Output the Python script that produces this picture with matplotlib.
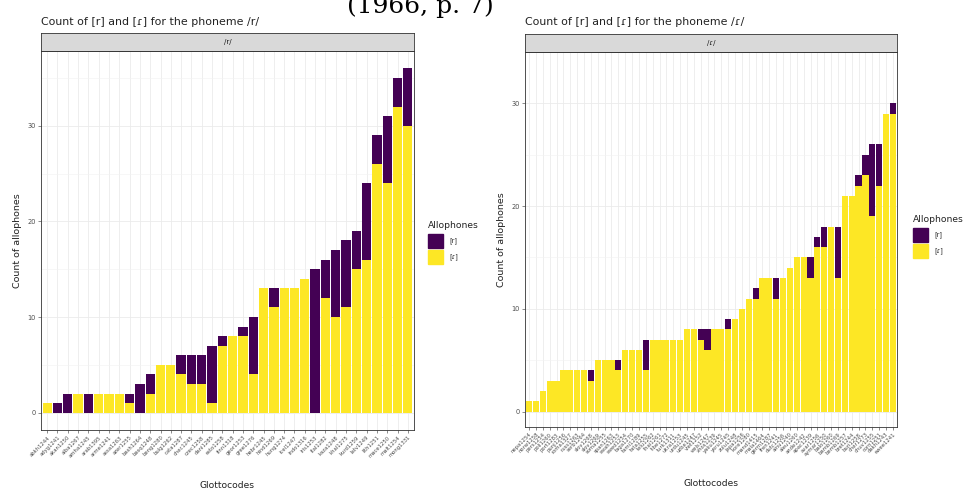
import matplotlib
matplotlib.use('Agg')
import matplotlib.pyplot as plt
import numpy as np

# left chart: phoneme /r/, 36 glottocodes sorted by total
left_codes = ['abkh1244', 'adyg1241', 'akan1250', 'alba1267', 'amha1245', 'arab1395',
              'arme1241', 'assa1263', 'azer1255', 'bash1264', 'basq1248', 'beng1280',
              'bulg1262', 'cata1287', 'chec1245', 'czec1258', 'dani1285', 'esto1258',
              'finn1318', 'geor1253', 'gree1276', 'hebr1245', 'hind1269', 'hung1274',
              'icel1247', 'indo1316', 'iris1253', 'ital1282', 'kaza1248', 'khal1275',
              'kurd1259', 'latv1249', 'lith1251', 'mace1250', 'malt1254', 'mong1331']
left_flap = [1, 0, 0, 2, 0, 2, 2, 2, 1, 0, 2, 5, 5, 4, 3, 3, 1, 7,
             8, 8, 4, 13, 11, 13, 13, 14, 0, 12, 10, 11, 15, 16, 26, 24, 32, 30]
left_trill = [0, 1, 2, 0, 2, 0, 0, 0, 1, 3, 2, 0, 0, 2, 3, 3, 6, 1,
              0, 1, 6, 0, 2, 0, 0, 0, 15, 4, 7, 7, 4, 8, 3, 7, 3, 6]

# right chart: phoneme /ɾ/, 54 glottocodes
right_codes = ['nepa1254', 'norw1258', 'pers1254', 'poli1260', 'port1283', 'punj1256',
               'roma1327', 'russ1263', 'serb1264', 'slov1268', 'slov1269', 'soma1255',
               'span1263', 'swah1253', 'swed1254', 'taga1270', 'tami1289', 'tata1255',
               'telu1262', 'thai1261', 'tibe1272', 'turk1311', 'ukra1253', 'urdu1245',
               'uzbe1247', 'viet1252', 'wels1247', 'xhos1239', 'yaku1245', 'yoru1245',
               'zulu1248', 'japa1256', 'kore1280', 'mand1415', 'mala1464', 'germ1287',
               'fren1241', 'dutc1256', 'ainu1240', 'aleu1260', 'ande1242', 'apac1239',
               'avar1256', 'aymar1250', 'balo1260', 'bamb1269', 'bemb1257', 'bret1244',
               'buri1258', 'cher1273', 'chuv1255', 'corn1251', 'dakh1243', 'ewee1241']
right_flap = [1, 1, 2, 3, 3, 4, 4, 4, 4, 3, 5, 5, 5, 4, 6, 6, 6, 4,
              7, 7, 7, 7, 7, 8, 8, 7, 6, 8, 8, 8, 9, 10, 11, 11, 13, 13,
              11, 13, 14, 15, 15, 13, 16, 16, 18, 13, 21, 21, 22, 23, 19, 22, 29, 29]
right_trill = [0, 0, 0, 0, 0, 0, 0, 0, 0, 1, 0, 0, 0, 1, 0, 0, 0, 3,
               0, 0, 0, 0, 0, 0, 0, 1, 2, 0, 0, 1, 0, 0, 0, 1, 0, 0,
               2, 0, 0, 0, 0, 2, 1, 2, 0, 5, 0, 0, 1, 2, 7, 4, 0, 1]

allophones = ['[r]', '[ɾ]']
purple = '#440154'
yellow = '#FDE725'

W, H = 964, 490
fig = plt.figure(figsize=(W / 100, H / 100), dpi=100)


def px(x0, y0, x1, y1):
    # pixel box -> figure fraction rect
    return [x0 / W, 1 - y1 / H, (x1 - x0) / W, (y1 - y0) / H]


def panel(box, strip_box, codes, flap, trill, title, strip, leg_x, leg_y):
    ax = fig.add_axes(px(*box))
    x = np.arange(len(codes))
    ax.bar(x, flap, width=0.9, color=yellow, zorder=2)
    ax.bar(x, trill, bottom=flap, width=0.9, color=purple, zorder=2)

    top = max(np.array(flap) + np.array(trill))
    pad = top * 0.05
    ax.set_ylim(-pad, top + pad)
    ax.set_xlim(-0.6, len(codes) - 0.4)
    ax.set_yticks([0, 10, 20, 30])
    ax.set_yticks([5, 15, 25, 35], minor=True)
    ax.set_xticks(x)
    ax.set_xticklabels(codes, rotation=45, ha='right', rotation_mode='anchor',
                       fontsize=3.8, color='#4D4D4D')
    ax.tick_params(axis='y', labelsize=4.8, labelcolor='#4D4D4D', length=2,
                   width=0.4, color='#333333', pad=1.5)
    ax.tick_params(axis='y', which='minor', length=0)
    ax.tick_params(axis='x', length=2, width=0.4, color='#333333', pad=1.5)
    ax.grid(True, which='major', color='#EBEBEB', lw=0.6, zorder=0)
    ax.grid(True, which='minor', axis='y', color='#F2F2F2', lw=0.4, zorder=0)
    ax.set_axisbelow(True)
    for s in ax.spines.values():
        s.set_color('#333333')
        s.set_linewidth(0.6)
    ax.set_ylabel('Count of allophones', fontsize=6.8, color='#222222', labelpad=4)
    ax.set_xlabel('Glottocodes', fontsize=6.6, color='#222222', labelpad=16)

    # facet strip
    sx = fig.add_axes(px(*strip_box))
    sx.set_facecolor('#D9D9D9')
    sx.set_xticks([])
    sx.set_yticks([])
    for s in sx.spines.values():
        s.set_color('#333333')
        s.set_linewidth(0.6)
    sx.text(0.5, 0.5, strip, ha='center', va='center', fontsize=5, color='#1A1A1A')

    fig.text(box[0] / W, 1 - 22 / H, title, fontsize=7.9, color='#222222',
             ha='left', va='center')

    # legend
    fig.text(leg_x / W, 1 - leg_y / H, 'Allophones', fontsize=6.6, color='#222222',
             ha='left', va='center')
    for i, (lab, col) in enumerate(zip(allophones, [purple, yellow])):
        ky = leg_y + 9 + i * 16
        fig.patches.append(plt.Rectangle((leg_x / W, 1 - (ky + 14) / H), 15 / W, 14 / H,
                                         transform=fig.transFigure, color=col))
        fig.text((leg_x + 21) / W, 1 - (ky + 7) / H, lab, fontsize=4.8,
                 color='#222222', ha='left', va='center')
    return ax


panel((41, 51, 414, 430), (41, 33, 414, 51), left_codes, left_flap, left_trill,
      'Count of [r] and [ɾ] for the phoneme /r/', '/r/', 428, 225)
panel((525, 52, 897, 427), (525, 34, 897, 52), right_codes, right_flap, right_trill,
      'Count of [r] and [ɾ] for the phoneme /ɾ/', '/ɾ/', 913, 219)

# clipped caption from the page above the figure (its top is cut in the reference)
fig.text(347 / W, 1 - 13 / H, '(1966, p. 7)', fontsize=18, family='DejaVu Serif',
         ha='left', va='baseline', color='black')

fig.savefig('out.png', dpi=100)
